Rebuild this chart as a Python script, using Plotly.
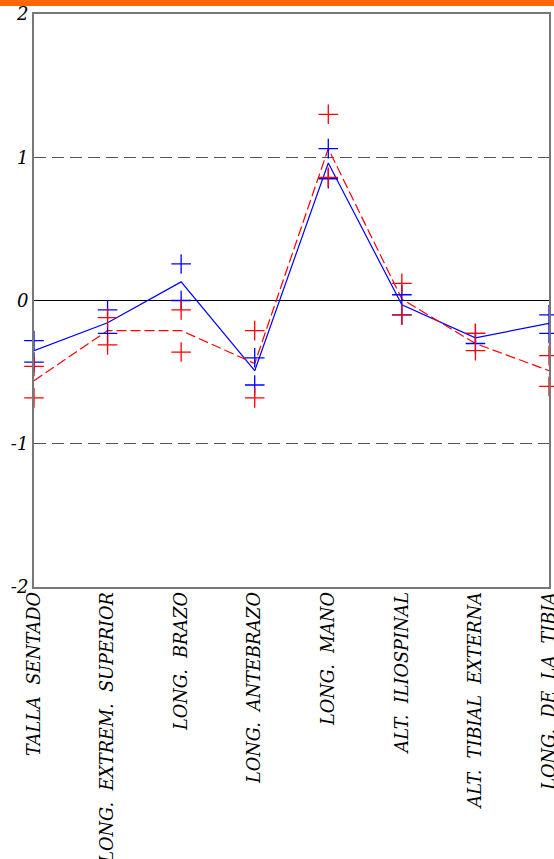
import plotly.graph_objects as go

categories = ["TALLA  SENTADO", "LONG.  EXTREM.  SUPERIOR", "LONG.  BRAZO", "LONG.  ANTEBRAZO",
              "LONG.  MANO", "ALT.  ILIOSPINAL", "ALT.  TIBIAL  EXTERNA", "LONG.  DE  LA  TIBIA"]

blue_line = [-0.35, -0.155, 0.13, -0.49, 0.96, -0.03, -0.26, -0.16]
red_line = [-0.56, -0.21, -0.21, -0.44, 1.06, 0.01, -0.30, -0.49]

blue_cross_a = [-0.28, -0.066, 0.255, -0.40, 1.06, 0.04, -0.23, -0.10]
blue_cross_b = [-0.43, -0.23, 0.0, -0.59, 0.85, -0.10, -0.30, -0.23]
red_cross_a = [-0.46, -0.12, -0.066, -0.21, 1.30, 0.12, -0.23, -0.385]
red_cross_b = [-0.68, -0.31, -0.36, -0.68, 0.86, -0.10, -0.35, -0.60]

y_ticks = [-2, -1, 0, 1, 2]
y_ticktext = ["-2", "-1", "0", "1", "2"]

xs = list(range(len(categories)))

fig = go.Figure()

def crosses(vals, color):
    fig.add_trace(go.Scatter(
        x=xs, y=vals, mode="markers", cliponaxis=False, showlegend=False, hoverinfo="skip",
        marker=dict(symbol="cross-thin", size=14, line=dict(color=color, width=1.3)),
    ))

fig.add_trace(go.Scatter(x=xs, y=blue_line, mode="lines", cliponaxis=False, showlegend=False,
                         hoverinfo="skip", line=dict(color="#0000FF", width=1.2)))
fig.add_trace(go.Scatter(x=xs, y=red_line, mode="lines", cliponaxis=False, showlegend=False,
                         hoverinfo="skip", line=dict(color="#FF0000", width=1.2, dash="10px,4px")))
crosses(blue_cross_a, "#0000FF")
crosses(blue_cross_b, "#0000FF")
crosses(red_cross_a, "#FF0000")
crosses(red_cross_b, "#FF0000")

fig.update_xaxes(
    range=[0, len(categories) - 1], tickvals=xs, ticktext=categories, tickangle=-90,
    automargin=False, ticklabeloverflow="allow", ticklabelstandoff=-4,
    showgrid=False, zeroline=False, showline=True, linecolor="#777777", linewidth=2, mirror=True,
    ticks="", tickfont=dict(family="DejaVu Serif", size=17.7, color="black", style="italic"),
)
fig.update_yaxes(
    range=[-2, 2], tickvals=y_ticks, ticktext=y_ticktext, automargin=False,
    showgrid=True, gridcolor="#555555", griddash="12px,6px", gridwidth=1.3,
    zeroline=True, zerolinecolor="black", zerolinewidth=1.2,
    showline=True, linecolor="#777777", linewidth=2, mirror=True, ticks="",
    tickfont=dict(family="DejaVu Serif", size=18, color="black", style="italic"),
)

fig.update_layout(
    width=554, height=859,
    margin=dict(l=34, r=5, t=14, b=272),
    plot_bgcolor="white", paper_bgcolor="white",
    shapes=[dict(type="rect", xref="paper", yref="paper", x0=-1, x1=2,
                 y0=1 + 8 / 573, y1=1 + 14.5 / 573, fillcolor="#FF6600", line=dict(width=0), layer="above")],
)

fig.write_html("out.html", config={"displayModeBar": False},
               post_script="document.body.style.margin='0';document.body.style.overflow='hidden';")
